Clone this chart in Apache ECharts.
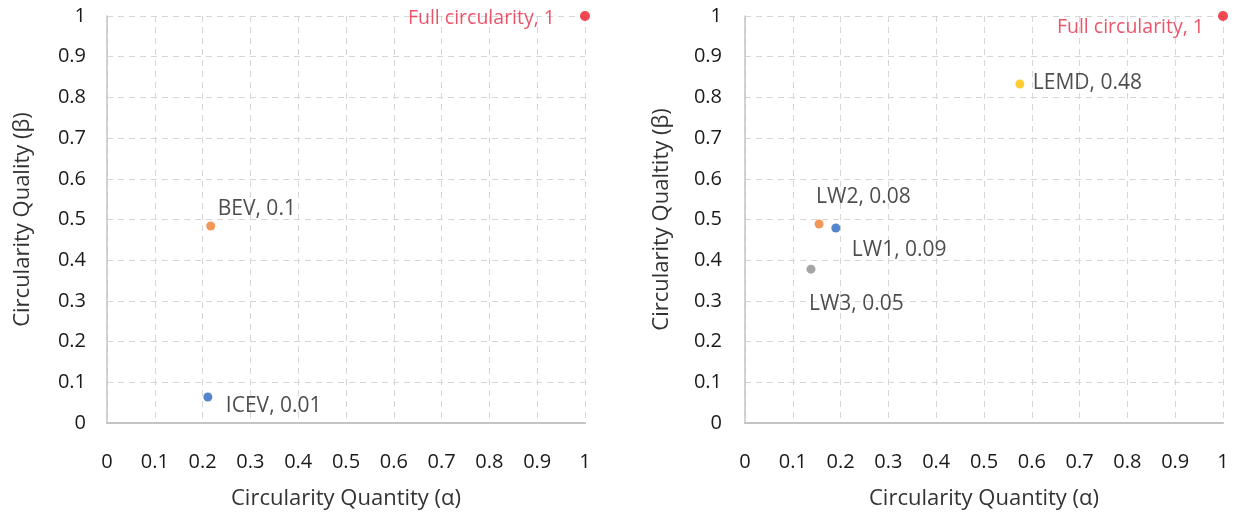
<!DOCTYPE html>
<html>
<head>
<meta charset="utf-8">
<script src="https://cdn.jsdelivr.net/npm/echarts@6/dist/echarts.min.js"></script>
<style>
  html, body { margin: 0; padding: 0; background: #fff; }
  #chart { width: 1233px; height: 513px; }
</style>
</head>
<body>
<div id="chart"></div>
<script>
// Vehicle powertrain options (left panel)
const vehicleNames = ['ICEV', 'BEV', 'Full circularity'];
const vehicleAlpha = [0.211, 0.217, 1];
const vehicleBeta = [0.064, 0.484, 1];
const vehicleIndex = ['0.01', '0.1', '1'];

// Lightweighting / motor design options (right panel)
const optionNames = ['LW1', 'LW2', 'LW3', 'LEMD', 'Full circularity'];
const optionAlpha = [0.19, 0.155, 0.138, 0.575, 1];
const optionBeta = [0.479, 0.489, 0.378, 0.833, 1];
const optionIndex = ['0.09', '0.08', '0.05', '0.48', '1'];

const tickValues = [0, 0.1, 0.2, 0.3, 0.4, 0.5, 0.6, 0.7, 0.8, 0.9, 1];
const xTitle = 'Circularity Quantity (α)';
const yTitleLeft = 'Circularity Quality (β)';
const yTitleRight = 'Circularity Qualtity (β)';

const FONT = '"Open Sans", "Noto Sans", sans-serif';
const colors = {
  ICEV: '#2a66c0', BEV: '#ed7d31', LW1: '#2a66c0', LW2: '#ed7d31',
  LW3: '#8f8f8f', LEMD: '#ffc000', 'Full circularity': '#ee1c25'
};
// label placement relative to each dot (dx, dy from dot centre, alignment)
const labelPlace = {
  ICEV: [18, 9, 'left'], BEV: [7, -17, 'left'],
  LW1: [16, 22, 'left'], LW2: [-3, -27, 'left'], LW3: [-2, 35, 'left'],
  LEMD: [13, -1, 'left'], 'Full circularity-0': [-30, 2, 'right'],
  'Full circularity-1': [-19, 11, 'right']
};

function fmtTick(v) {
  const t = tickValues.find(x => Math.abs(x - v) < 1e-9);
  return t === undefined ? '' : String(t);
}

function buildPoints(names, a, b, idx, panel) {
  return names.map((n, i) => {
    const key = labelPlace[n] ? n : n + '-' + panel;
    const p = labelPlace[key];
    const size = n === 'Full circularity' ? 10 : 9;
    return {
      name: n,
      value: [a[i], b[i]],
      symbolSize: size,
      itemStyle: { color: colors[n] },
      label: {
        show: true,
        formatter: n + ', ' + idx[i],
        position: [size / 2 + p[0], size / 2 + p[1]],
        align: p[2],
        verticalAlign: 'middle',
        color: n === 'Full circularity' ? '#e62a44' : '#222',
        fontSize: n === 'Full circularity' ? 19.5 : 21,
        fontFamily: FONT
      }
    };
  });
}

function xAxis(gridIndex) {
  return {
    type: 'value', gridIndex, min: 0, max: 1, interval: 0.1,
    name: xTitle, nameLocation: 'middle', nameGap: 65,
    nameTextStyle: { fontSize: 22, color: '#333', fontFamily: FONT },
    axisLine: { show: true, lineStyle: { color: '#c4c4c4', width: 2 } },
    axisTick: { show: false },
    axisLabel: { margin: 29, fontSize: 20, color: '#1a1a1a', fontFamily: FONT, formatter: fmtTick },
    splitLine: { show: true, lineStyle: { color: '#d6d6d6', type: [6, 5], width: 1 } }
  };
}
function yAxis(gridIndex, title, margin, gap) {
  return {
    type: 'value', gridIndex, min: 0, max: 1, interval: 0.1,
    name: title, nameLocation: 'middle', nameGap: gap, nameRotate: 90,
    nameTextStyle: { fontSize: 22, color: '#333', fontFamily: FONT },
    axisLine: { show: true, lineStyle: { color: '#c4c4c4', width: 1.5 } },
    axisTick: { show: false },
    axisLabel: { margin, fontSize: 20, color: '#1a1a1a', fontFamily: FONT, formatter: fmtTick },
    splitLine: { show: true, lineStyle: { color: '#d6d6d6', type: [6, 5], width: 1 } }
  };
}

const chart = echarts.init(document.getElementById('chart'), null, { renderer: 'canvas' });
chart.setOption({
  backgroundColor: '#fff',
  animation: false,
  grid: [
    { left: 107, top: 16, width: 478, height: 407, containLabel: false, outerBoundsMode: 'none' },
    { left: 745, top: 16, width: 478, height: 407, containLabel: false, outerBoundsMode: 'none' }
  ],
  xAxis: [xAxis(0), xAxis(1)],
  yAxis: [yAxis(0, yTitleLeft, 21, 73), yAxis(1, yTitleRight, 23, 72)],
  series: [
    {
      type: 'scatter', xAxisIndex: 0, yAxisIndex: 0,
      data: buildPoints(vehicleNames, vehicleAlpha, vehicleBeta, vehicleIndex, 0)
    },
    {
      type: 'scatter', xAxisIndex: 1, yAxisIndex: 1,
      data: buildPoints(optionNames, optionAlpha, optionBeta, optionIndex, 1)
    }
  ]
});
</script>
</body>
</html>
